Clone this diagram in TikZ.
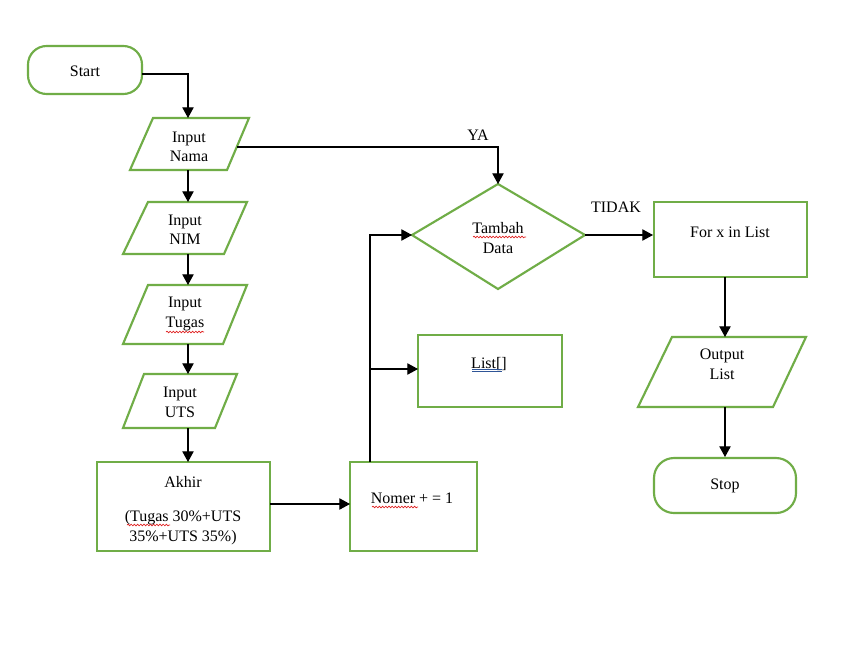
\documentclass[tikz,border=0pt]{standalone}
\usepackage{fontspec}
\setmainfont{Liberation Serif}
\usetikzlibrary{arrows.meta,decorations.pathmorphing}
\definecolor{flowgreen}{HTML}{70AD47}
\definecolor{spellred}{HTML}{E02020}
\definecolor{linkblue}{HTML}{2F5597}
\begin{document}
\begin{tikzpicture}[x=0.75pt,y=-0.75pt,
  flowshape/.style={draw=flowgreen, line width=1.6pt, line join=miter},
  conn/.style={draw=black, line width=0.8pt, -{Triangle[length=8pt,width=8.5pt]}},
  txt/.style={font=\fontsize{12}{14.6}\selectfont, align=center, inner sep=0pt},
  squiggle/.style={draw=spellred, line width=0.5pt,
    decorate, decoration={snake, amplitude=0.6pt, segment length=2.4pt}},
  linkline/.style={draw=linkblue, line width=0.6pt}]
\useasboundingbox[fill=white] (0,0) rectangle (862,664);

% ---- shapes ----
% terminals
\draw[flowshape, rounded corners=14pt] (28,46) rectangle (142,94);
\draw[flowshape, rounded corners=15pt] (654,458) rectangle (796,513);
% input parallelograms
\draw[flowshape] (153,118) -- (249,118) -- (227,170) -- (130,170) -- cycle;
\draw[flowshape] (148,202) -- (247,202) -- (224,254) -- (123,254) -- cycle;
\draw[flowshape] (148,285) -- (247,285) -- (223,344) -- (123,344) -- cycle;
\draw[flowshape] (144,374) -- (237,374) -- (215,428) -- (123,428) -- cycle;
\draw[flowshape] (672,337) -- (806,337) -- (773,407) -- (638,407) -- cycle;
% process boxes
\draw[flowshape] (97,462) rectangle (270,551);
\draw[flowshape] (350,462) rectangle (477,551);
\draw[flowshape] (418,335) rectangle (562,407);
\draw[flowshape] (654,202) rectangle (807,277);
% decision
\draw[flowshape] (498,184) -- (585,235) -- (498,289) -- (412,235) -- cycle;

% ---- texts ----
\node[txt] (start)  at (85,71.5)  {Start};
\node[txt] (nama)   at (189,147)  {Input\\Nama};
\node[txt] (nim)    at (185,230)  {Input\\NIM};
\node[txt] (tugas)  at (185,314)  {Input\\Tugas};
\node[txt] (uts)    at (180,402.5){Input\\UTS};
\node[txt] (akhir)  at (183,481.5){Akhir};
\node[txt] (rumus)  at (183,527.5){(Tugas 30\%+UTS\\35\%+UTS 35\%)};
\node[txt] (nomer)  at (412,498.5){Nomer + = 1};
\node[txt] (list)   at (489,364)  {List[]};
\node[txt] (tambah) at (498,238)  {Tambah\\Data};
\node[txt] (forx)   at (730,232)  {For x in List};
\node[txt] (output) at (722,364.5){Output\\List};
\node[txt] (stop)   at (725,486)  {Stop};
\node[txt] (ya)     at (478,135.5){YA};
\node[txt] (tidak)  at (616,207.5){TIDAK};

% proofing marks under words
\draw[squiggle] (166,332) -- (204,332);
\draw[squiggle] (127,525) -- (170,525);
\draw[squiggle] (473,237) -- (526,237);
\draw[squiggle] (372,507) -- (418,507);
\draw[linkline] (472,369) -- (502,369);
\draw[linkline] (472,371) -- (502,371);

% ---- connection points ----
\coordinate (startR) at (142,74);
\coordinate (namaT)  at (188,118);
\coordinate (namaB)  at (188,170);
\coordinate (namaR)  at (237,147);
\coordinate (nimT)   at (188,202);
\coordinate (nimB)   at (188,254);
\coordinate (tugasT) at (188,285);
\coordinate (tugasB) at (188,344);
\coordinate (utsT)   at (188,374);
\coordinate (utsB)   at (188,428);
\coordinate (akhirT) at (188,462);
\coordinate (akhirR) at (270,504);
\coordinate (nomerL) at (350,504);
\coordinate (nomerT) at (370,462);
\coordinate (branch) at (370,369);
\coordinate (listL)  at (418,369);
\coordinate (diaT)   at (498,184);
\coordinate (diaL)   at (412,235);
\coordinate (diaR)   at (585,235);
\coordinate (forL)   at (653,235);
\coordinate (forB)   at (725,277);
\coordinate (outT)   at (725,337);
\coordinate (outB)   at (725,407);
\coordinate (stopT)  at (725,457);

% ---- connectors ----
\draw[conn] (startR) -| (namaT);
\draw[conn] (namaR) -| (diaT);
\draw[conn] (namaB) -- (nimT);
\draw[conn] (nimB) -- (tugasT);
\draw[conn] (tugasB) -- (utsT);
\draw[conn] (utsB) -- (akhirT);
\draw[conn] (akhirR) -- (nomerL);
\draw[conn] (nomerT) |- (diaL);
\draw[conn] (branch) -- (listL);
\draw[conn] (diaR) -- (forL);
\draw[conn] (forB) -- (outT);
\draw[conn] (outB) -- (stopT);
\end{tikzpicture}
\end{document}
